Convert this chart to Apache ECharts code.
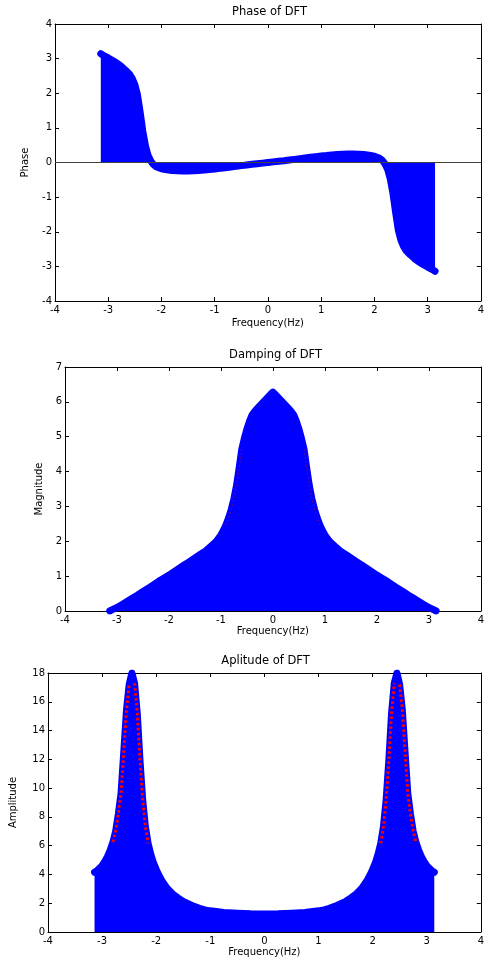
<!DOCTYPE html>
<html>
<head>
<meta charset="utf-8">
<script src="https://cdn.jsdelivr.net/npm/echarts@6/dist/echarts.min.js"></script>
<style>
html,body{margin:0;padding:0;background:#fff;}
#c{width:487px;height:960px;}
</style>
</head>
<body>
<div id="c"></div>
<script>
// ---------- data ----------
const titles = ['Phase of DFT', 'Damping of DFT', 'Aplitude of DFT'];
const yNames = ['Phase', 'Magnitude', 'Amplitude'];
const xName = 'Frequency(Hz)';
const xRange = [-4, 4];
const yRanges = [[-4, 4], [0, 7], [0, 18]];
const yIntervals = [1, 1, 2];

const phaseFreq = [-3.14,-3.1,-3.0,-2.9,-2.8,-2.75,-2.7,-2.65,-2.6,-2.55,-2.5,-2.45,-2.4,-2.35,-2.3,-2.25,-2.2,-2.15,-2.1,-2.0,
  -1.9,-1.8,-1.7,-1.6,-1.5,-1.4,-1.3,-1.2,-1.1,-1.0,-0.9,-0.8,-0.7,-0.6,-0.5,-0.4,-0.3,-0.2,-0.1,0,
  0.1,0.2,0.3,0.4,0.5,0.6,0.7,0.8,0.9,1.0,1.1,1.2,1.3,1.4,1.5,1.6,1.7,1.8,1.9,
  2.0,2.1,2.15,2.2,2.25,2.3,2.35,2.4,2.45,2.5,2.55,2.6,2.65,2.7,2.75,2.8,2.9,3.0,3.1,3.14];
const phaseVal = [3.14,3.1,3.02,2.93,2.83,2.77,2.7,2.63,2.55,2.43,2.25,1.95,1.45,0.9,0.48,0.2,0.04,-0.06,-0.12,-0.18,
  -0.21,-0.23,-0.24,-0.245,-0.245,-0.24,-0.23,-0.22,-0.2,-0.185,-0.17,-0.15,-0.13,-0.11,-0.09,-0.07,-0.05,-0.035,-0.018,0,
  0.018,0.035,0.05,0.07,0.09,0.11,0.13,0.15,0.17,0.185,0.2,0.22,0.23,0.24,0.245,0.245,0.24,0.23,0.21,
  0.18,0.12,0.06,-0.04,-0.2,-0.48,-0.9,-1.45,-1.95,-2.25,-2.43,-2.55,-2.63,-2.7,-2.77,-2.83,-2.93,-3.02,-3.1,-3.14];

const dampFreq = [-3.14,-3.1,-3.0,-2.9,-2.8,-2.7,-2.6,-2.5,-2.4,-2.3,-2.2,-2.1,-2.0,-1.9,-1.8,-1.7,-1.6,-1.5,-1.4,-1.3,-1.2,-1.1,-1.0,
  -0.95,-0.9,-0.85,-0.8,-0.75,-0.7,-0.65,-0.6,-0.55,-0.5,-0.45,-0.4,-0.35,-0.3,-0.25,-0.2,-0.15,-0.1,-0.05,0,
  0.05,0.1,0.15,0.2,0.25,0.3,0.35,0.4,0.45,0.5,0.55,0.6,0.65,0.7,0.75,0.8,0.85,0.9,0.95,
  1.0,1.1,1.2,1.3,1.4,1.5,1.6,1.7,1.8,1.9,2.0,2.1,2.2,2.3,2.4,2.5,2.6,2.7,2.8,2.9,3.0,3.1,3.14];
const dampVal = [0.0,0.03,0.1,0.19,0.28,0.37,0.46,0.56,0.65,0.75,0.85,0.94,1.03,1.13,1.23,1.33,1.42,1.52,1.62,1.72,1.85,1.98,2.18,
  2.32,2.48,2.68,2.92,3.22,3.6,4.1,4.63,4.95,5.22,5.45,5.63,5.73,5.81,5.89,5.97,6.05,6.13,6.21,6.28,
  6.21,6.13,6.05,5.97,5.89,5.81,5.73,5.63,5.45,5.22,4.95,4.63,4.1,3.6,3.22,2.92,2.68,2.48,2.32,
  2.18,1.98,1.85,1.72,1.62,1.52,1.42,1.33,1.23,1.13,1.03,0.94,0.85,0.75,0.65,0.56,0.46,0.37,0.28,0.19,0.1,0.03,0.0];

const ampFreq = [-3.14,-3.1,-3.05,-3.0,-2.95,-2.9,-2.85,-2.8,-2.75,-2.7,-2.65,-2.6,-2.55,-2.5,-2.45,-2.4,-2.35,-2.3,-2.25,-2.2,
  -2.15,-2.1,-2.05,-2.0,-1.95,-1.9,-1.8,-1.7,-1.6,-1.5,-1.4,-1.3,-1.2,-1.1,-1.0,-0.75,-0.5,-0.25,0,
  0.25,0.5,0.75,1.0,1.1,1.2,1.3,1.4,1.5,1.6,1.7,1.8,1.9,1.95,2.0,2.05,2.1,2.15,
  2.2,2.25,2.3,2.35,2.4,2.45,2.5,2.55,2.6,2.65,2.7,2.75,2.8,2.85,2.9,2.95,3.0,3.05,3.1,3.14];
const ampVal = [4.15,4.25,4.42,4.62,4.9,5.25,5.7,6.25,7.0,8.2,9.64,12.5,15.4,17.2,18.0,17.3,15.2,11.95,9.2,7.32,
  6.16,5.4,4.8,4.35,3.95,3.6,3.05,2.66,2.38,2.12,1.95,1.78,1.64,1.54,1.47,1.36,1.3,1.26,1.25,
  1.26,1.3,1.36,1.47,1.54,1.64,1.78,1.95,2.12,2.38,2.66,3.05,3.6,3.95,4.35,4.8,5.4,6.16,
  7.32,9.2,11.95,15.2,17.3,18.0,17.2,15.4,12.5,9.64,8.2,7.0,6.25,5.7,5.25,4.9,4.62,4.42,4.25,4.15];

// ---------- layout ----------
const grids = [
  {left: 55, top: 24, width: 429, height: 277},
  {left: 65, top: 367, width: 421, height: 244},
  {left: 47, top: 673, width: 437, height: 259}
];
const titleY = [12, 355, 661];
const yNameGap = [25, 21, 30];
const xNameGap = [17, 15, 15];
const FONT = 'DejaVu Sans';

const zip = (a, b) => a.map((x, i) => [x, b[i]]);
const band = (a, b, lo, hi) => a.map((x, i) => [x, (b[i] >= lo && b[i] <= hi) ? b[i] : '-']);

const xAxes = [], yAxes = [];
grids.forEach((g, i) => {
  const common = {
    type: 'value', gridIndex: i, splitLine: {show: false},
    axisLine: {show: true, onZero: false, lineStyle: {color: '#000', width: 1}},
    axisTick: {show: true, inside: true, length: 4, lineStyle: {color: '#000'}}
  };
  xAxes.push(Object.assign({}, common, {
    position: 'bottom', min: xRange[0], max: xRange[1], interval: 1,
    axisLabel: {color: '#000', fontFamily: FONT, fontSize: 10, margin: 4},
    name: xName, nameLocation: 'middle', nameGap: xNameGap[i],
    nameTextStyle: {color: '#000', fontFamily: FONT, fontSize: 10, verticalAlign: 'top'}
  }));
  xAxes.push(Object.assign({}, common, {
    position: 'top', min: xRange[0], max: xRange[1], interval: 1,
    axisLabel: {show: false}
  }));
  yAxes.push(Object.assign({}, common, {
    position: 'left', min: yRanges[i][0], max: yRanges[i][1], interval: yIntervals[i],
    axisLabel: {color: '#000', fontFamily: FONT, fontSize: 10, margin: 3},
    name: yNames[i], nameLocation: 'middle', nameGap: yNameGap[i],
    nameTextStyle: {color: '#000', fontFamily: FONT, fontSize: 10}
  }));
  yAxes.push(Object.assign({}, common, {
    position: 'right', min: yRanges[i][0], max: yRanges[i][1], interval: yIntervals[i],
    axisLabel: {show: false}
  }));
});

const BLUE = '#0000ff';
function stemSeries(i, f, v, extra) {
  return Object.assign({
    type: 'line', xAxisIndex: 2 * i, yAxisIndex: 2 * i,
    data: zip(f, v), smooth: false,
    showSymbol: false, symbol: 'none', clip: true,
    lineStyle: {color: BLUE, width: 7, cap: 'round', join: 'round'},
    areaStyle: {color: BLUE, opacity: 1},
    silent: true, z: 2
  }, extra || {});
}
function redSeries(i, data, width, dash, op) {
  return {
    type: 'line', xAxisIndex: 2 * i, yAxisIndex: 2 * i,
    data: data, smooth: false, connectNulls: false,
    showSymbol: false, symbol: 'none', silent: true, z: 3,
    lineStyle: {color: '#ff0000', width: width, type: dash, opacity: op, cap: 'butt', join: 'round'}
  };
}

const series = [
  stemSeries(0, phaseFreq, phaseVal, {
    markLine: {
      silent: true, symbol: ['none', 'none'], label: {show: false},
      lineStyle: {color: '#404040', width: 1, type: 'solid'},
      data: [{yAxis: 0}], z: 5
    }
  }),
  stemSeries(1, dampFreq, dampVal),
  redSeries(1, band(dampFreq, dampVal, 2.4, 4.8), 1.2, [1, 3], 0.7),
  stemSeries(2, ampFreq, ampVal),
  redSeries(2, band(ampFreq, ampVal, 5.8, 17.5), 3, [2.5, 2.5], 1)
];

const graphic = titles.map((t, i) => ({
  type: 'text', x: grids[i].left + grids[i].width / 2, y: titleY[i],
  style: {text: t, fill: '#000', font: '11.5px "DejaVu Sans"', textAlign: 'center', textVerticalAlign: 'middle', align: 'center', verticalAlign: 'middle'}
}));

const chart = echarts.init(document.getElementById('c'), null, {renderer: 'canvas'});
chart.setOption({
  animation: false,
  backgroundColor: '#fff',
  grid: grids.map(g => Object.assign({containLabel: false, show: false}, g)),
  xAxis: xAxes, yAxis: yAxes,
  series: series,
  graphic: graphic
});
</script>
</body>
</html>
